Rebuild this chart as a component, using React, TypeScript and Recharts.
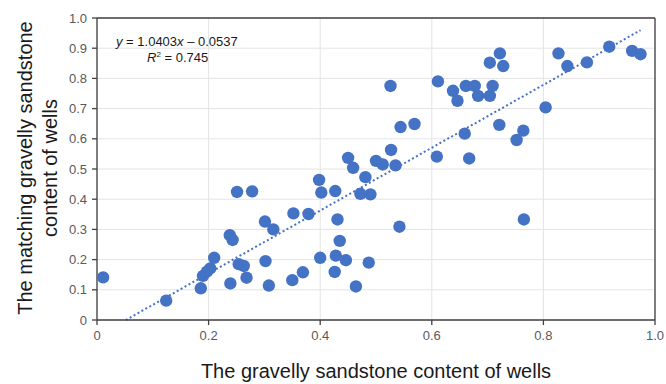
import React from "react"
import {
  ScatterChart,
  Scatter,
  XAxis,
  YAxis,
  CartesianGrid,
  ReferenceLine,
  Label,
} from "recharts"

// measured well pairs: actual content (x) vs matching content (y)
const actualContent = [
  0.011, 0.124, 0.186, 0.19, 0.197, 0.203, 0.21, 0.239, 0.238, 0.243, 0.251, 0.278,
  0.254, 0.263, 0.268, 0.301, 0.316, 0.302, 0.308, 0.35, 0.352, 0.379, 0.369, 0.398,
  0.402, 0.427, 0.431, 0.435, 0.4, 0.428, 0.446, 0.426, 0.487, 0.464, 0.542, 0.472,
  0.49, 0.481, 0.459, 0.45, 0.5, 0.512, 0.527, 0.535, 0.609, 0.667, 0.526, 0.611,
  0.638, 0.646, 0.661, 0.677, 0.683, 0.544, 0.569, 0.659, 0.704, 0.709, 0.722, 0.704,
  0.728, 0.827, 0.843, 0.878, 0.918, 0.959, 0.974, 0.804, 0.721, 0.764, 0.752, 0.765,
]
const matchedContent = [
  0.141, 0.064, 0.105, 0.146, 0.16, 0.171, 0.206, 0.121, 0.281, 0.265, 0.424, 0.426,
  0.185, 0.179, 0.14, 0.326, 0.3, 0.195, 0.114, 0.132, 0.353, 0.351, 0.158, 0.464,
  0.422, 0.427, 0.333, 0.262, 0.206, 0.213, 0.198, 0.159, 0.19, 0.111, 0.309, 0.418,
  0.416, 0.473, 0.504, 0.537, 0.527, 0.515, 0.563, 0.512, 0.541, 0.535, 0.775, 0.79,
  0.759, 0.726, 0.775, 0.775, 0.742, 0.639, 0.649, 0.617, 0.742, 0.775, 0.883, 0.852,
  0.841, 0.883, 0.841, 0.853, 0.905, 0.891, 0.88, 0.704, 0.646, 0.627, 0.596, 0.333,
]

const xTicks = [0, 0.2, 0.4, 0.6, 0.8, 1.0]
const yTicks = [0, 0.1, 0.2, 0.3, 0.4, 0.5, 0.6, 0.7, 0.8, 0.9, 1.0]

// linear fit
const slope = 1.0403
const intercept = -0.0537
const rSquared = 0.745

const points = actualContent.map((x, i) => ({ x, y: matchedContent[i] }))

const fitStart = -intercept / slope
const fitEnd = Math.max(...actualContent)
const fitSegment = [
  { x: fitStart, y: 0 },
  { x: fitEnd, y: slope * fitEnd + intercept },
]

const BLUE = "#4472C4"
const AXIS = "#404040"
const FONT = "Arial, 'Liberation Sans', sans-serif"

const fmt = (v: number) => (v === 0 ? "0" : v.toFixed(1))

const Dot = (props: any) => <circle cx={props.cx} cy={props.cy} r={6.2} fill={BLUE} />

const YTitle = () => (
  <g fontFamily={FONT} fontSize={20} fill="#1a1a1a" textAnchor="middle">
    <text x={25} y={168} transform="rotate(-90 25 168)" dominantBaseline="central">
      The matching gravelly sandstone
    </text>
    <text x={50} y={168} transform="rotate(-90 50 168)" dominantBaseline="central">
      content of wells
    </text>
  </g>
)

const Equation = () => (
  <g fontFamily={FONT} fontSize={13} fill="#1a1a1a">
    <text x={116} y={46}>
      <tspan fontStyle="italic">y</tspan>
      {" = " + slope.toFixed(4)}
      <tspan fontStyle="italic">x</tspan>
      {" \u2013 " + Math.abs(intercept).toFixed(4)}
    </text>
    <text x={147} y={62}>
      <tspan fontStyle="italic">R</tspan>
      <tspan fontSize={8} dy={-5}>2</tspan>
      <tspan dy={5}>{" = " + rSquared.toFixed(3)}</tspan>
    </text>
  </g>
)

export default function App() {
  return (
    <div style={{ width: 666, height: 384, background: "#fff" }}>
      <style>{"body{margin:0}"}</style>
      <ScatterChart
        width={666}
        height={384}
        margin={{ top: 18, right: 11, bottom: 34, left: 47 }}
      >
        <CartesianGrid stroke="#e4e4e4" strokeWidth={1} />
        <XAxis
          type="number"
          dataKey="x"
          domain={[0, 1]}
          ticks={xTicks}
          tickFormatter={fmt}
          height={30}
          stroke={AXIS}
          strokeWidth={1.3}
          tickSize={5}
          tickMargin={6}
          tick={{ fill: "#595959", fontSize: 13, fontFamily: FONT }}
          allowDataOverflow
        >
          <Label
            value="The gravelly sandstone content of wells"
            position="bottom"
            offset={14}
            style={{ fontSize: 20, fontFamily: FONT, fill: "#1a1a1a" }}
          />
        </XAxis>
        <YAxis
          type="number"
          dataKey="y"
          domain={[0, 1]}
          ticks={yTicks}
          tickFormatter={fmt}
          width={50}
          stroke={AXIS}
          strokeWidth={1.3}
          tickSize={5}
          tickMargin={5}
          tick={{ fill: "#595959", fontSize: 13, fontFamily: FONT }}
          allowDataOverflow
        >
          <Label content={() => <YTitle />} />
        </YAxis>
        <ReferenceLine y={1} stroke={AXIS} strokeWidth={1.3} />
        <ReferenceLine x={1} stroke={AXIS} strokeWidth={1.3} />
        <ReferenceLine
          segment={fitSegment}
          stroke={BLUE}
          strokeWidth={2}
          strokeDasharray="2 2.5"
          label={<Equation />}
        />
        <Scatter data={points} fill={BLUE} shape={Dot} isAnimationActive={false} />
      </ScatterChart>
    </div>
  )
}
